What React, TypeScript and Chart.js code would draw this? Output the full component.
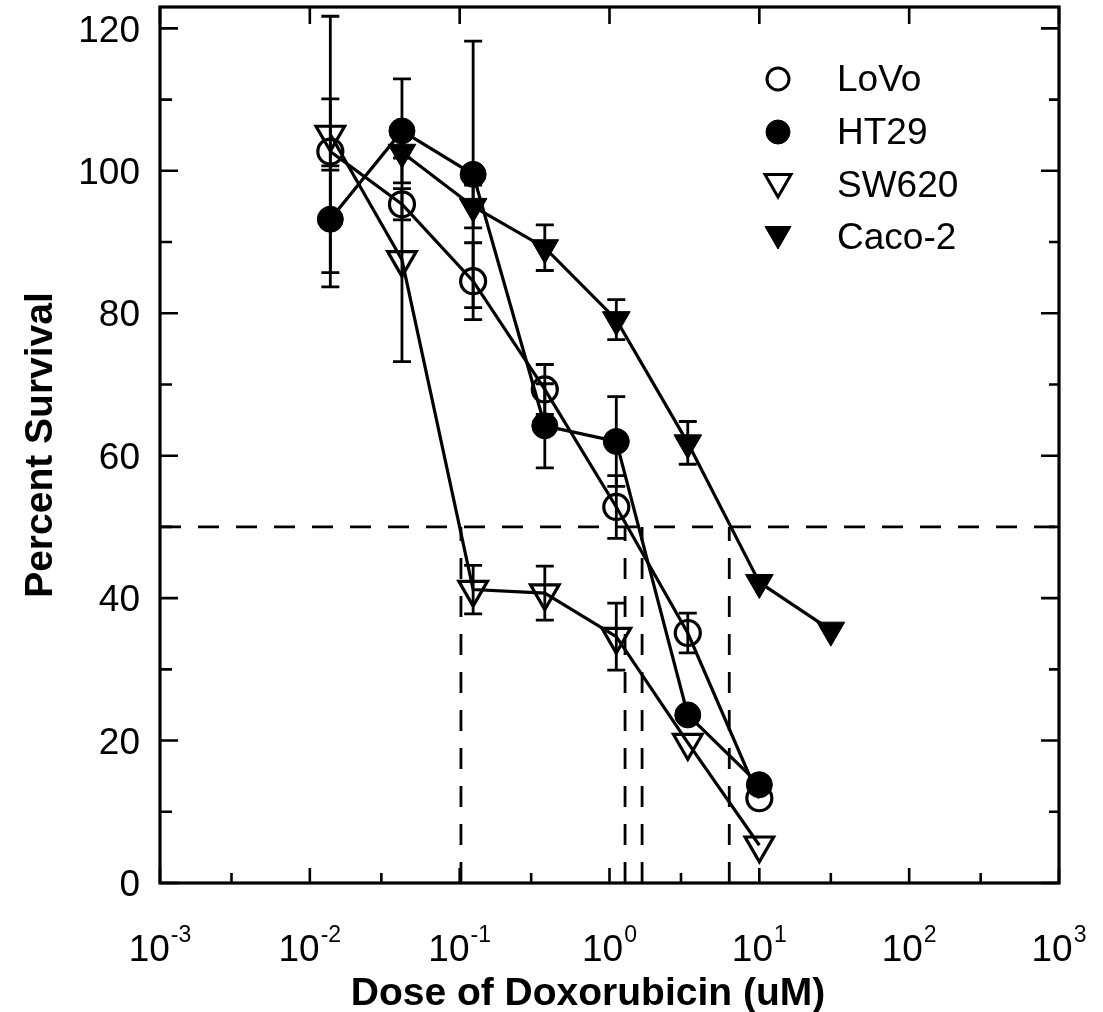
import React, { useEffect, useRef } from 'react';
import { Chart, registerables } from 'chart.js';

Chart.register(...registerables);

// ---- data ----
const doses = [0.0137, 0.0412, 0.123, 0.37, 1.11, 3.33, 10];
const caco2Doses = [0.0412, 0.123, 0.37, 1.11, 3.33, 10, 30];
const seriesNames = ['LoVo', 'HT29', 'SW620', 'Caco-2'];
const lovoSurvival = [102.7, 95.3, 84.5, 69.3, 52.8, 35.1, 11.9];
const lovoError = [19, 2.2, 5.4, 3.5, 4.4, 2.8, null];
const ht29Survival = [93.2, 105.6, 99.5, 64.2, 62.0, 23.6, 13.8];
const ht29Error = [7.5, 7.3, 18.7, 5.9, 6.3, null, null];
const sw620Survival = [105.1, 87.5, 41.2, 40.7, 34.6, 19.7, 5.3];
const sw620Error = [5, 14.3, 3.4, 3.8, 4.7, null, null];
const caco2Survival = [102.6, 95.0, 89.2, 79.1, 61.8, 42.2, 35.5];
const caco2Error = [null, 3, 3.2, 2.8, 3, null, null];
const halfSurvival = 50;
const ic50Doses = [0.102, 1.27, 1.65, 6.3];
const xRange = [0.001, 1000];
const yRange = [0, 123];
const xTickExponents = [-3, -2, -1, 0, 1, 2, 3];
const xMinorTicks = [0.003, 0.03, 0.3, 3, 30, 300];
const yTickValues = [0, 20, 40, 60, 80, 100, 120];
const yMinorTicks = [10, 30, 50, 70, 90, 110];
const xTitle = 'Dose of Doxorubicin (uM)';
const yTitle = 'Percent Survival';

const FONT = '"Liberation Sans", Arial, Helvetica, sans-serif';

const toPoints = (xs: number[], ys: number[]) => ys.map((y, i) => ({ x: xs[i], y }));

type Marker = { style: 'circle' | 'triangle'; filled: boolean };
const markers: Marker[] = [
  { style: 'circle', filled: false },
  { style: 'circle', filled: true },
  { style: 'triangle', filled: false },
  { style: 'triangle', filled: true },
];

function markerProps(m: Marker) {
  if (m.style === 'circle') {
    return {
      pointStyle: 'circle',
      pointRadius: m.filled ? 13 : 12.5,
      pointBorderWidth: m.filled ? 1 : 3.2,
      pointBackgroundColor: m.filled ? '#000' : 'rgba(0,0,0,0)',
      pointBorderColor: '#000',
      pointRotation: 0,
    };
  }
  return {
    pointStyle: 'triangle',
    pointRadius: m.filled ? 16 : 16.5,
    pointBorderWidth: m.filled ? 1 : 3.2,
    pointBackgroundColor: m.filled ? '#000' : 'rgba(0,0,0,0)',
    pointBorderColor: '#000',
    pointRotation: 180,
  };
}

function drawMarker(ctx: CanvasRenderingContext2D, m: Marker, x: number, y: number, r: number) {
  ctx.save();
  ctx.beginPath();
  if (m.style === 'circle') {
    ctx.arc(x, y, r, 0, Math.PI * 2);
  } else {
    const s = Math.sin(Math.PI / 3) * r;
    ctx.moveTo(x - s, y - r / 2);
    ctx.lineTo(x + s, y - r / 2);
    ctx.lineTo(x, y + r);
    ctx.closePath();
  }
  ctx.lineWidth = m.filled ? 1 : 3;
  ctx.strokeStyle = '#000';
  if (m.filled) {
    ctx.fillStyle = '#000';
    ctx.fill();
  }
  ctx.stroke();
  ctx.restore();
}

const seriesDatasets = [
  { xs: doses, ys: lovoSurvival, err: lovoError },
  { xs: doses, ys: ht29Survival, err: ht29Error },
  { xs: doses, ys: sw620Survival, err: sw620Error },
  { xs: caco2Doses, ys: caco2Survival, err: caco2Error },
].map((s, i) => ({
  label: seriesNames[i],
  data: toPoints(s.xs, s.ys),
  errorBars: s.err,
  showLine: true,
  borderColor: '#000',
  borderWidth: 3.2,
  ...markerProps(markers[i]),
}));

const dashedStyle = {
  showLine: true,
  borderColor: '#000',
  borderWidth: 2.8,
  borderDash: [21, 17],
  pointRadius: 0,
  label: '',
};

const refDatasets = [
  { ...dashedStyle, data: [{ x: xRange[0], y: halfSurvival }, { x: xRange[1], y: halfSurvival }] },
  ...ic50Doses.map((d) => ({ ...dashedStyle, data: [{ x: d, y: yRange[0] }, { x: d, y: halfSurvival }] })),
];

const decorPlugin = {
  id: 'decor',
  beforeDatasetsDraw(chart: any) {
    const ctx: CanvasRenderingContext2D = chart.ctx;
    const xs = chart.scales.x;
    const ys = chart.scales.y;
    ctx.save();
    ctx.strokeStyle = '#000';
    ctx.lineWidth = 2.8;
    chart.data.datasets.forEach((ds: any) => {
      if (!ds.errorBars) return;
      ds.data.forEach((p: any, i: number) => {
        const e = ds.errorBars[i];
        if (e == null) return;
        const px = xs.getPixelForValue(p.x);
        const top = ys.getPixelForValue(p.y + e);
        const bot = ys.getPixelForValue(p.y - e);
        ctx.beginPath();
        ctx.moveTo(px, top);
        ctx.lineTo(px, bot);
        ctx.moveTo(px - 9, top);
        ctx.lineTo(px + 9, top);
        ctx.moveTo(px - 9, bot);
        ctx.lineTo(px + 9, bot);
        ctx.stroke();
      });
    });
    ctx.restore();
  },
  afterDraw(chart: any) {
    const ctx: CanvasRenderingContext2D = chart.ctx;
    const { left, right, top, bottom } = chart.chartArea;
    const xs = chart.scales.x;
    const ys = chart.scales.y;
    ctx.save();
    ctx.strokeStyle = '#000';
    ctx.fillStyle = '#000';
    ctx.lineWidth = 3.2;
    ctx.strokeRect(left, top, right - left, bottom - top);

    ctx.lineWidth = 2.6;
    ctx.beginPath();
    xTickExponents.forEach((e) => {
      const px = xs.getPixelForValue(Math.pow(10, e));
      ctx.moveTo(px, bottom);
      ctx.lineTo(px, bottom - 15);
      ctx.moveTo(px, top);
      ctx.lineTo(px, top + 17);
    });
    xMinorTicks.forEach((v) => {
      const px = xs.getPixelForValue(v);
      ctx.moveTo(px, bottom);
      ctx.lineTo(px, bottom - 10);
    });
    yTickValues.forEach((v) => {
      const py = ys.getPixelForValue(v);
      ctx.moveTo(left, py);
      ctx.lineTo(left + 18, py);
      ctx.moveTo(right, py);
      ctx.lineTo(right - 18, py);
    });
    yMinorTicks.forEach((v) => {
      const py = ys.getPixelForValue(v);
      ctx.moveTo(left, py);
      ctx.lineTo(left + 12, py);
      ctx.moveTo(right, py);
      ctx.lineTo(right - 10, py);
    });
    ctx.stroke();

    // y tick labels
    ctx.font = `37px ${FONT}`;
    ctx.textAlign = 'right';
    ctx.textBaseline = 'middle';
    yTickValues.forEach((v) => {
      const py = ys.getPixelForValue(v);
      ctx.fillText(String(v), 140, py + 3);
    });

    // x tick labels with superscript exponents
    ctx.textBaseline = 'alphabetic';
    ctx.textAlign = 'left';
    xTickExponents.forEach((e) => {
      const px = xs.getPixelForValue(Math.pow(10, e));
      const base = '10';
      const exp = String(e);
      ctx.font = `37px ${FONT}`;
      const wb = ctx.measureText(base).width;
      ctx.font = `23px ${FONT}`;
      const we = ctx.measureText(exp).width;
      const x0 = px - (wb + we + 1) / 2;
      ctx.font = `37px ${FONT}`;
      ctx.fillText(base, x0, 961);
      ctx.font = `23px ${FONT}`;
      ctx.fillText(exp, x0 + wb + 1, 942);
    });

    // axis titles
    ctx.font = `bold 39px ${FONT}`;
    ctx.textAlign = 'center';
    ctx.textBaseline = 'alphabetic';
    ctx.fillText(xTitle, 588, 1005);
    ctx.save();
    ctx.translate(52, 445);
    ctx.rotate(-Math.PI / 2);
    ctx.fillText(yTitle, 0, 0);
    ctx.restore();

    // legend
    const rows = [79, 132, 185, 237];
    ctx.font = `37px ${FONT}`;
    ctx.textAlign = 'left';
    ctx.textBaseline = 'middle';
    seriesNames.forEach((name, i) => {
      const m = markers[i];
      const y = rows[i];
      drawMarker(ctx, m, 778, m.style === 'triangle' ? y - 3 : y, m.style === 'circle' ? (m.filled ? 12 : 11) : 15);
      ctx.fillStyle = '#000';
      ctx.fillText(name, 837, y + 2);
    });
    ctx.restore();
  },
};

export default function App() {
  const ref = useRef<HTMLCanvasElement>(null);
  useEffect(() => {
    if (!ref.current) return;
    const chart = new Chart(ref.current, {
      type: 'scatter',
      data: { datasets: [...seriesDatasets, ...refDatasets] as any },
      options: {
        responsive: false,
        animation: false,
        devicePixelRatio: 1,
        layout: { autoPadding: false, padding: { left: 0, right: 44, top: 7, bottom: 0 } },
        plugins: { legend: { display: false }, tooltip: { enabled: false }, title: { display: false } },
        scales: {
          x: {
            type: 'logarithmic',
            min: xRange[0],
            max: xRange[1],
            grid: { display: false },
            border: { display: false },
            ticks: { display: false },
            afterFit: (s: any) => {
              s.height = 129;
            },
          },
          y: {
            type: 'linear',
            min: yRange[0],
            max: yRange[1],
            grid: { display: false },
            border: { display: false },
            ticks: { display: false },
            afterBuildTicks: (s: any) => {
              s.ticks = yTickValues.map((v) => ({ value: v }));
            },
            afterFit: (s: any) => {
              s.width = 160;
            },
          },
        },
      },
      plugins: [decorPlugin],
    } as any);
    return () => chart.destroy();
  }, []);
  return (
    <div style={{ position: 'absolute', left: 0, top: 0, width: 1103, height: 1012, background: '#fff' }}>
      <canvas ref={ref} width={1103} height={1012} style={{ display: 'block' }} />
    </div>
  );
}
